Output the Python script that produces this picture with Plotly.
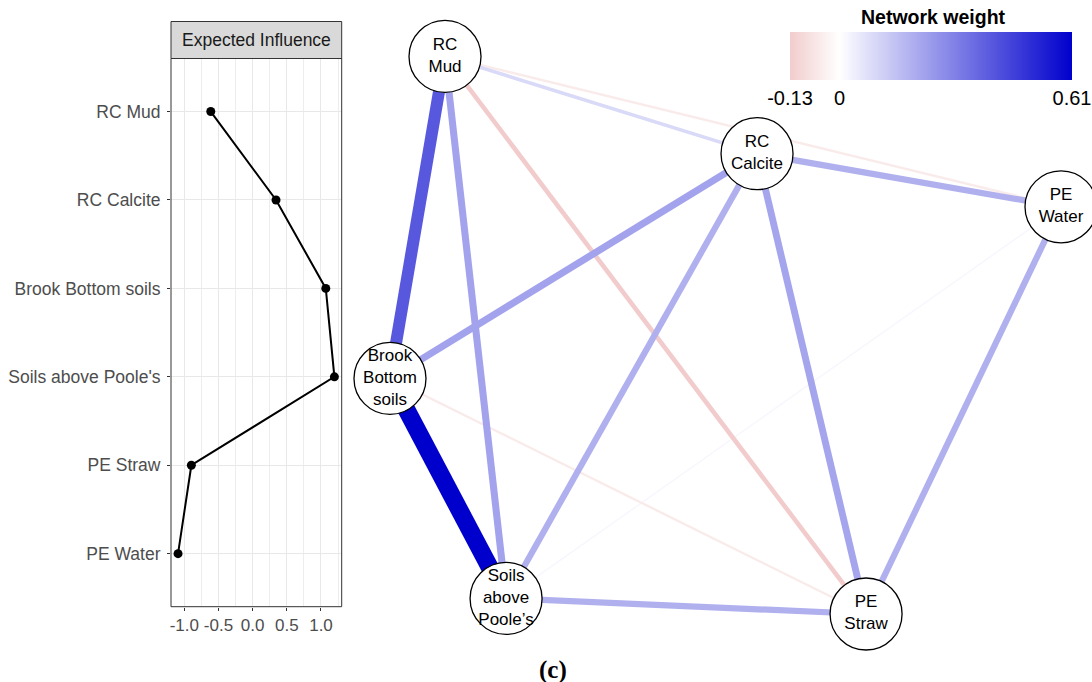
import plotly.graph_objects as go
from plotly.colors import sample_colorscale

W, H = 1092, 682

# ---------------- data ----------------
ei_nodes = ["RC Mud", "RC Calcite", "Brook Bottom soils", "Soils above Poole's", "PE Straw", "PE Water"]
ei_values = [-0.613, 0.342, 1.070, 1.196, -0.897, -1.092]
ei_ticks = [-1.0, -0.5, 0.0, 0.5, 1.0]
ei_ticktext = ["-1.0", "-0.5", "0.0", "0.5", "1.0"]

net_labels = ["RC<br>Mud", "RC<br>Calcite", "PE<br>Water", "Brook<br>Bottom<br>soils",
              "Soils<br>above<br>Poole’s", "PE<br>Straw"]
net_x = [-0.836, 0.094, 1.000, -1.000, -0.654, 0.419]
net_y = [1.002, 0.653, 0.462, -0.154, -0.944, -1.000]

edge_from = [3, 0, 0, 1, 1, 1, 1, 2, 4, 0, 0, 0, 3, 4]
edge_to   = [4, 3, 4, 3, 4, 5, 2, 5, 5, 1, 5, 2, 5, 2]
edge_w    = [0.61, 0.40, 0.22, 0.22, 0.19, 0.215, 0.19, 0.19, 0.19, 0.09, -0.13, -0.05, -0.05, 0.02]

w_min, w_max = -0.13, 0.61
cb_ticks = [-0.13, 0, 0.61]
cb_ticktext = ["-0.13", "0", "0.61"]

# ---------------- styling ----------------
FONT = "Liberation Sans, Arial, sans-serif"
zero_frac = (0 - w_min) / (w_max - w_min)
cscale = [[0.0, "rgb(242,204,204)"], [zero_frac, "rgb(255,255,255)"], [1.0, "rgb(0,0,205)"]]

fig = go.Figure()

# ---- left panel: expected influence ----
fig.add_trace(go.Scatter(
    x=ei_values, y=ei_nodes, mode="lines+markers",
    line=dict(color="black", width=2), marker=dict(color="black", size=9),
    xaxis="x", yaxis="y", showlegend=False, hoverinfo="x+y"))

# ---- network edges ----
order = sorted(range(len(edge_w)), key=lambda i: abs(edge_w[i]))
for i in order:
    a, b = edge_from[i], edge_to[i]
    frac = (edge_w[i] - w_min) / (w_max - w_min)
    col = sample_colorscale(cscale, [frac])[0]
    fig.add_trace(go.Scatter(
        x=[net_x[a], net_x[b]], y=[net_y[a], net_y[b]], mode="lines",
        line=dict(color=col, width=1 + 27.5 * abs(edge_w[i])),
        xaxis="x2", yaxis="y2", showlegend=False, hoverinfo="skip"))

# colorbar carrier
mid_x = [(net_x[a] + net_x[b]) / 2 for a, b in zip(edge_from, edge_to)]
mid_y = [(net_y[a] + net_y[b]) / 2 for a, b in zip(edge_from, edge_to)]
fig.add_trace(go.Scatter(
    x=mid_x, y=mid_y, mode="markers",
    marker=dict(color=edge_w, colorscale=cscale, cmin=w_min, cmax=w_max, opacity=0, size=1,
                showscale=True,
                colorbar=dict(orientation="h", x=(790 + 1072) / 2 / W, xanchor="center",
                              y=1 - 32 / H, yanchor="top", ypad=0, xpad=0,
                              len=282, lenmode="pixels", thickness=48, thicknessmode="pixels",
                              outlinewidth=0, tickvals=cb_ticks, ticktext=cb_ticktext,
                              ticks="", tickfont=dict(size=20, color="black", family=FONT))),
    xaxis="x2", yaxis="y2", showlegend=False, hoverinfo="skip"))

# ---- network nodes ----
fig.add_trace(go.Scatter(
    x=net_x, y=net_y, mode="markers+text", text=net_labels, textposition="middle center",
    textfont=dict(size=17, color="black", family=FONT),
    marker=dict(size=72, color="white", line=dict(color="black", width=1.3)),
    xaxis="x2", yaxis="y2", showlegend=False, hoverinfo="skip", cliponaxis=False))

# ---------------- layout ----------------
px0, py0 = 171.0, 58.5
px1, py1 = 341.7, 606.7
fig.update_layout(
    width=W, height=H, autosize=False,
    margin=dict(l=0, r=0, t=0, b=0),
    paper_bgcolor="white", plot_bgcolor="rgba(0,0,0,0)",
    font=dict(family=FONT),
    xaxis=dict(domain=[px0 / W, px1 / W], anchor="y", range=[-1.195, 1.303],
               tickvals=ei_ticks, ticktext=ei_ticktext, ticks="outside", ticklen=3,
               tickcolor="#333333", tickfont=dict(size=17, color="#4d4d4d"),
               showgrid=True, gridcolor="#e8e8e8", gridwidth=1.2, zeroline=False,
               minor=dict(dtick=0.25, tick0=0, showgrid=True, gridcolor="#ededed", gridwidth=0.9),
               showline=False, fixedrange=True),
    yaxis=dict(domain=[1 - py1 / H, 1 - py0 / H], anchor="x", type="category",
               categoryorder="array", categoryarray=ei_nodes, range=[5.6, -0.6],
               ticks="outside", ticklen=3, tickcolor="#333333", ticklabelstandoff=3,
               tickfont=dict(size=17.5, color="#4d4d4d"),
               showgrid=True, gridcolor="#e8e8e8", gridwidth=1.2, zeroline=False,
               showline=False, fixedrange=True),
    xaxis2=dict(domain=[0, 1], anchor="y2", range=[-2.1624, 1.0924], visible=False, fixedrange=True),
    yaxis2=dict(domain=[0, 1], anchor="x2", range=[-1.2442, 1.2047], visible=False, fixedrange=True),
    shapes=[
        dict(type="rect", xref="paper", yref="paper", x0=px0 / W, x1=px1 / W,
             y0=1 - py0 / H, y1=1 - 21.5 / H, fillcolor="#d9d9d9",
             line=dict(color="#333333", width=1)),
        dict(type="rect", xref="paper", yref="paper", x0=px0 / W, x1=px1 / W,
             y0=1 - py1 / H, y1=1 - py0 / H, line=dict(color="#333333", width=1),
             layer="above"),
    ],
    annotations=[
        dict(text="Expected Influence", xref="paper", yref="paper",
             x=(px0 + px1) / 2 / W, y=1 - 40 / H, showarrow=False,
             xanchor="center", yanchor="middle", font=dict(size=17.5, color="#1a1a1a")),
        dict(text="<b>Network weight</b>", xref="paper", yref="paper",
             x=933 / W, y=1 - 17 / H, showarrow=False,
             xanchor="center", yanchor="middle", font=dict(size=19.5, color="black")),
        dict(text="<b>(c)</b>", xref="paper", yref="paper", x=553 / W, y=1 - 670 / H,
             showarrow=False, xanchor="center", yanchor="middle",
             font=dict(size=25, color="black", family="Liberation Serif, Times New Roman, serif")),
    ],
)

fig.write_html("out.html", config={"displayModeBar": False},
               post_script="document.body.style.margin='0px';document.body.style.overflow='hidden';")
